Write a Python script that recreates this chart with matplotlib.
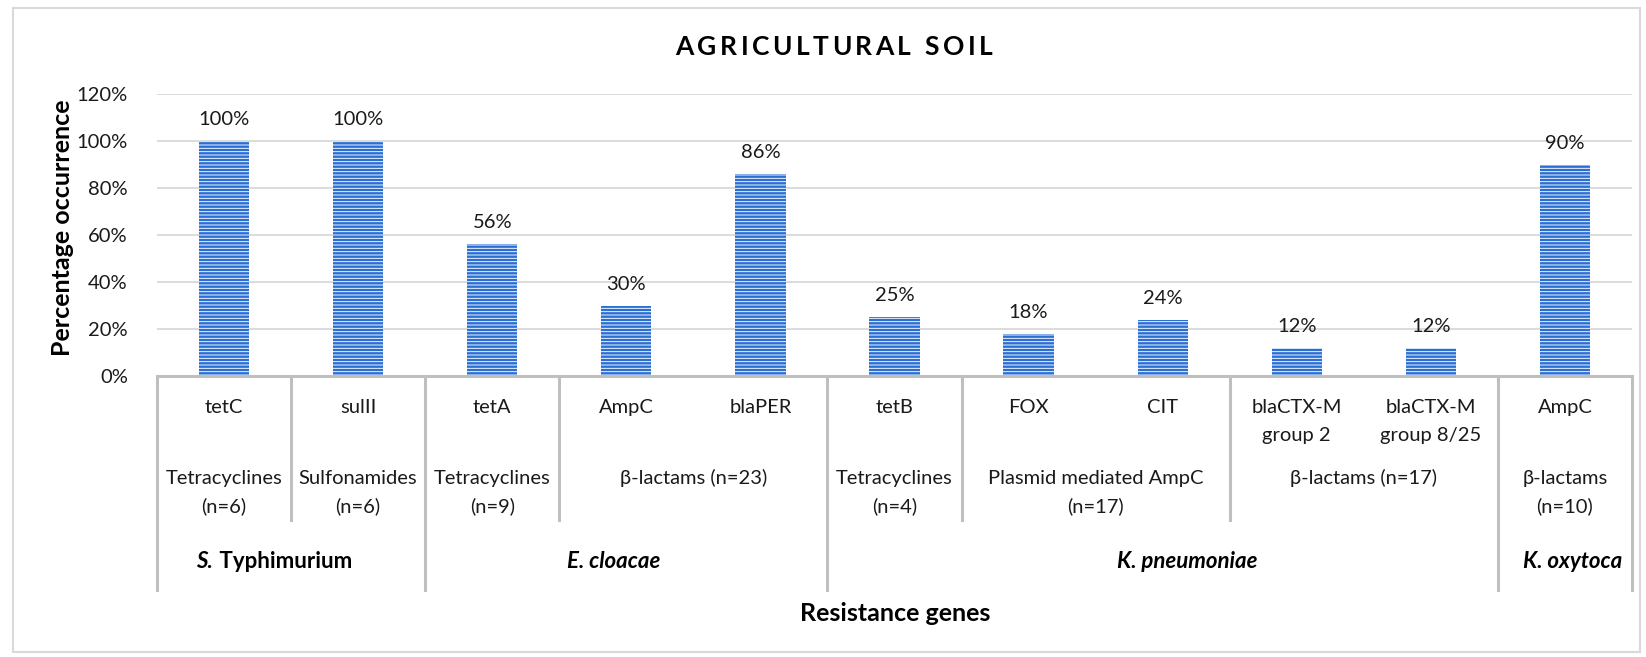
import matplotlib
matplotlib.use('Agg')
import matplotlib.pyplot as plt
from matplotlib.lines import Line2D

# ---------------- data ----------------
genes = ['tetC', 'sulII', 'tetA', 'AmpC', 'blaPER', 'tetB', 'FOX', 'CIT',
         'blaCTX-M\ngroup 2', 'blaCTX-M\ngroup 8/25', 'AmpC']
values = [100, 100, 56, 30, 86, 25, 18, 24, 12, 12, 90]

class_labels = ['Tetracyclines\n(n=6)', 'Sulfonamides\n(n=6)', 'Tetracyclines\n(n=9)',
                'β-lactams (n=23)', 'Tetracyclines\n(n=4)', 'Plasmid mediated AmpC\n(n=17)',
                'β-lactams (n=17)', 'β-lactams\n(n=10)']
class_start = [0, 1, 2, 3, 5, 6, 8, 10]
class_end = [0, 1, 2, 4, 5, 7, 9, 10]

species_italic = ['S.', 'E. cloacae', 'K. pneumoniae', 'K. oxytoca']
species_upright = [' Typhimurium', '', '', '']
species_start = [0, 2, 5, 10]
species_end = [1, 4, 9, 10]

yticks = [0, 20, 40, 60, 80, 100, 120]
title = 'AGRICULTURAL SOIL'
ylabel = 'Percentage occurrence'
xlabel = 'Resistance genes'

# ---------------- style ----------------
W, H = 1646, 657
FAM = ['Lato', 'DejaVu Sans']
plt.rcParams['font.family'] = FAM
plt.rcParams['hatch.linewidth'] = 0.65
BLUE = '#2a6fd4'
GRID = '#d9d9d9'
SEP = '#bfbfbf'
TXT = '#1a1a1a'
FS = 14.5

fig = plt.figure(figsize=(W / 100, H / 100), dpi=100)
fig.patch.set_facecolor('white')

L, R, B, T = 157, 1632, 376, 94
ax = fig.add_axes([L / W, 1 - B / H, (R - L) / W, (B - T) / H])
ax.set_xlim(-0.5, len(genes) - 0.5)
ax.set_ylim(0, 120)

x = list(range(len(genes)))
ax.bar(x, values, width=0.375, color=BLUE, edgecolor='white', linewidth=0,
       hatch='-----', zorder=2)

for xi, v in zip(x, values):
    ax.annotate(f'{v}%', (xi, v), xytext=(0, 11.5), textcoords='offset points',
                ha='center', va='baseline', fontsize=FS, color=TXT)

ax.set_yticks(yticks)
ax.set_yticklabels([f'{t}%' for t in yticks], fontsize=FS, color=TXT)
ax.tick_params(axis='y', length=0, pad=21)
ax.tick_params(axis='x', length=0, labelbottom=False)
ax.yaxis.grid(True, color=GRID, linewidth=1.3, zorder=0)
ax.set_axisbelow(True)
for s in ax.spines.values():
    s.set_visible(False)
ax.axhline(0, color=SEP, linewidth=2.2, zorder=3, clip_on=False)


def fx(px):
    return px / W


def fy(py):
    return 1 - py / H


def xpix(xd):
    return L + (xd + 0.5) * (R - L) / len(genes)


# separators
species_bounds = set(s - 0.5 for s in species_start) | {len(genes) - 0.5}
class_bounds = set(s - 0.5 for s in class_start) - species_bounds
for b in species_bounds:
    fig.add_artist(Line2D([fx(xpix(b))] * 2, [fy(377), fy(590)], color=SEP, linewidth=2.2))
for b in class_bounds:
    fig.add_artist(Line2D([fx(xpix(b))] * 2, [fy(377), fy(520)], color=SEP, linewidth=2.2))

LINE = 28
# gene labels
for xi, g in zip(x, genes):
    for k, line in enumerate(g.split('\n')):
        fig.text(fx(xpix(xi)), fy(413 + LINE * k), line, ha='center', va='baseline',
                 fontsize=FS, color=TXT)

# class labels
for lab, s, e in zip(class_labels, class_start, class_end):
    cx = xpix((s + e) / 2)
    for k, line in enumerate(lab.split('\n')):
        fig.text(fx(cx), fy(484 + LINE * k), line, ha='center', va='baseline',
                 fontsize=FS, color=TXT)

# species labels (italic part + upright part)
renderer = fig.canvas.get_renderer()
species_shift = [-18, -13, 25, 8]
SFS = 16
for it, up, s, e, dx in zip(species_italic, species_upright, species_start, species_end, species_shift):
    cx = (xpix(s - 0.5) + xpix(e + 0.5)) / 2 + dx
    t1 = fig.text(0, fy(568), it, ha='left', va='baseline', fontsize=SFS,
                  fontweight='bold', fontstyle='italic', color='black')
    w1 = t1.get_window_extent(renderer).width
    w2 = 0
    t2 = None
    if up:
        t2 = fig.text(0, fy(568), up, ha='left', va='baseline', fontsize=SFS,
                      fontweight='bold', color='black')
        w2 = t2.get_window_extent(renderer).width
    left = cx - (w1 + w2) / 2
    t1.set_x(fx(left))
    if t2 is not None:
        t2.set_x(fx(left + w1 + 2))

# axis titles
fig.text(fx(895), fy(621), xlabel, ha='center', va='baseline', fontsize=18,
         fontweight='bold', color='black')
fig.text(fx(63), fy(228), ylabel, ha='center', va='center', rotation=90,
         fontsize=18, fontweight='bold', color='black')

# title with letter spacing
TFS = 19
spacing = 3.5
widths = []
tobjs = []
for ch in title:
    t = fig.text(0, fy(55), ch, ha='left', va='baseline', fontsize=TFS,
                 fontweight='bold', color='black')
    w = t.get_window_extent(renderer).width if ch != ' ' else TFS * 100 / 72 * 0.25
    widths.append(w)
    tobjs.append(t)
total = sum(widths) + spacing * (len(title) - 1)
pos = 834 - total / 2
for t, w in zip(tobjs, widths):
    t.set_x(fx(pos))
    pos += w + spacing

# chart border
fig.add_artist(plt.Rectangle((fx(13), fy(652)), fx(1640 - 13), (652 - 8) / H,
                             fill=False, edgecolor=GRID, linewidth=1.5))

fig.savefig('out.png', dpi=100, facecolor='white')
